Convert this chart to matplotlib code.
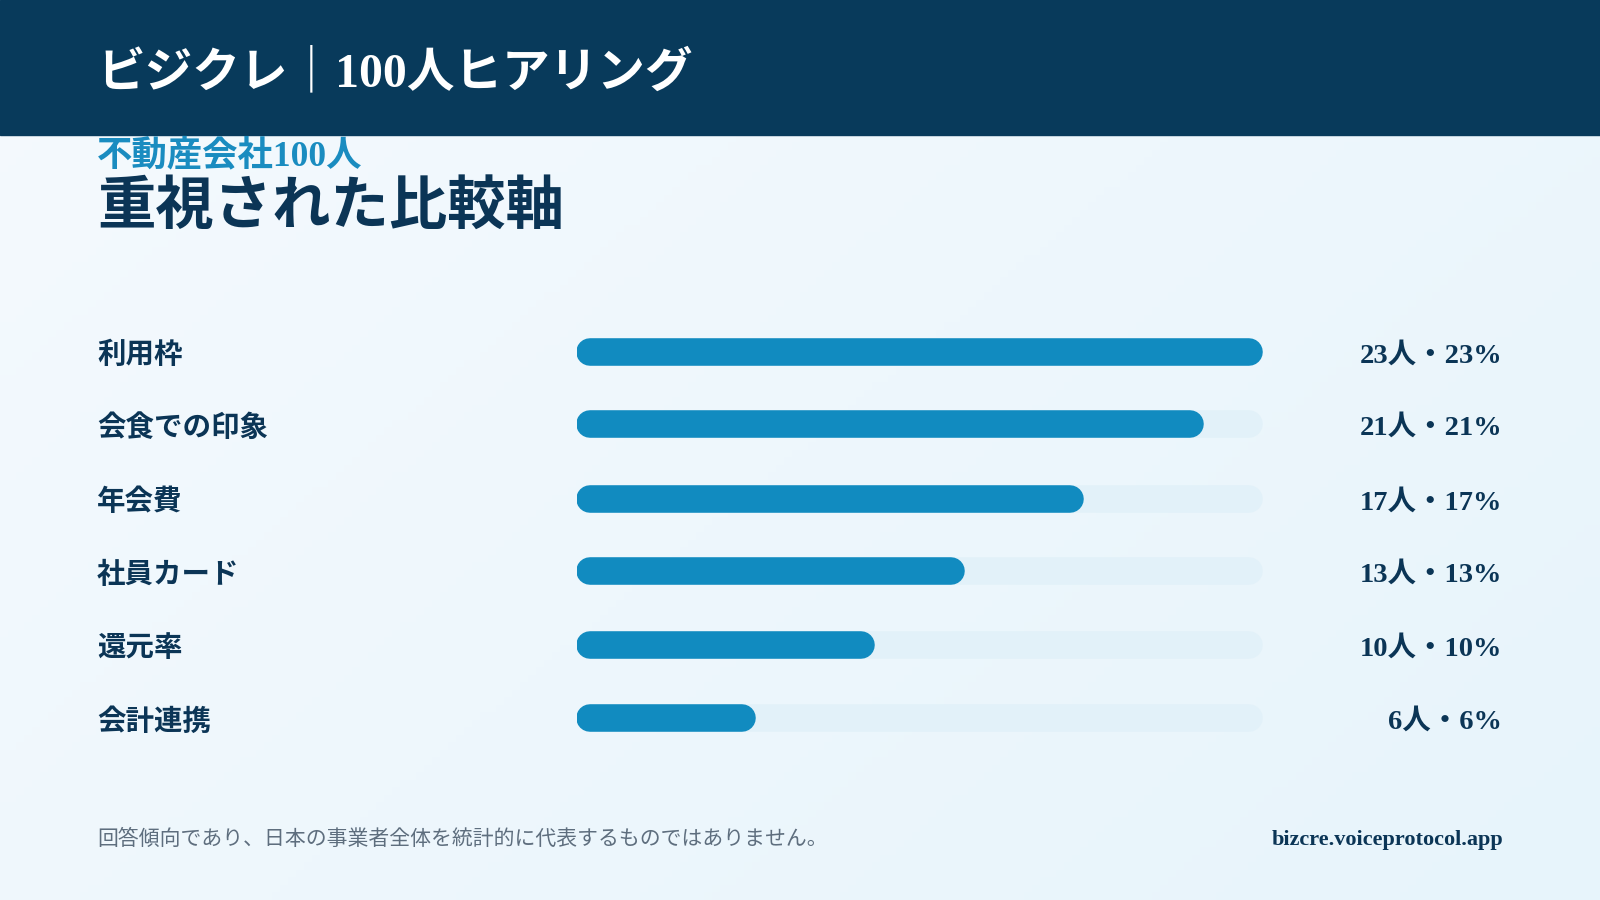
import numpy as np
import matplotlib.pyplot as plt
from matplotlib.colors import LinearSegmentedColormap

plt.rcParams['font.family'] = ['Liberation Serif', 'Noto Sans CJK JP']

categories = ["利用枠", "会食での印象", "年会費", "社員カード", "還元率", "会計連携"]
counts = [23, 21, 17, 13, 10, 6]
total = 100
header_title = "ビジクレ｜100人ヒアリング"
subtitle = "不動産会社100人"
title = "重視された比較軸"
note = "回答傾向であり、日本の事業者全体を統計的に代表するものではありません。"
url = "bizcre.voiceprotocol.app"

NAVY = "#083A5B"
BLUE = "#118BC0"
TRACK = "#E2F1F9"
TEXT = "#0B3556"

W, H = 1600, 900
s = W / 1568  # reference measured at 1568 px wide
dy = 3.5  # nudge text down so glyphs sit centred like the reference

fig = plt.figure(figsize=(16, 9), dpi=100)
bg = fig.add_axes([0, 0, 1, 1])
bg.set_xlim(0, W)
bg.set_ylim(H, 0)
bg.axis("off")

# soft diagonal gradient background
gx, gy = np.meshgrid(np.linspace(0, 1, 200), np.linspace(0, 1, 120))
grad = (gx * 0.6 + gy * 0.4)
cmap = LinearSegmentedColormap.from_list("bg", ["#F5FAFE", "#E7F4FB"])
bg.imshow(grad, cmap=cmap, extent=[0, W, H, 0], aspect="auto", zorder=0)

# header band
bg.add_patch(plt.Rectangle((0, 0), W, 132 * s, color=NAVY, zorder=1))
bg.text(95 * s, 68 * s + dy, header_title, color="white", fontsize=34.3,
        fontweight="bold", va="center", ha="left", zorder=2)

bg.text(95 * s, 151 * s + 2, subtitle, color="#1A8CC0", fontsize=25.5,
        fontweight="bold", va="center", ha="left", zorder=2)
bg.text(95 * s, 199 * s + 5, title, color=TEXT, fontsize=42,
        fontweight="bold", va="center", ha="left", zorder=2)

# bar area
row_y = [345, 416, 489, 560, 632, 704]
x0, x1 = 565 * s, 1238 * s
bar_h = 27 * s
top = (row_y[0] - 36) * s
bottom = (row_y[-1] + 36) * s
ax = fig.add_axes([x0 / W, 1 - bottom / H, (x1 - x0) / W, (bottom - top) / H])
vmax = max(counts)
ax.set_xlim(0, vmax)
ax.set_ylim(bottom, top)
ax.axis("off")

lw = bar_h * 72 / 100  # px -> pt
r = (bar_h / 2) / (x1 - x0) * vmax  # cap radius in data units
for i, (cat, c) in enumerate(zip(categories, counts)):
    y = row_y[i] * s
    ax.plot([r, vmax - r], [y, y], color=TRACK, lw=lw, solid_capstyle="round", zorder=1)
    ax.plot([r, c - r], [y, y], color=BLUE, lw=lw, solid_capstyle="round", zorder=2)
    bg.text(95 * s, y + dy, cat, color=TEXT, fontsize=20.5, fontweight="bold",
            va="center", ha="left", zorder=2)
    pct = round(c / total * 100)
    bg.text(1472 * s, y + dy, f"{c}人・{pct}%", color=TEXT, fontsize=20.5,
            fontweight="bold", va="center", ha="right", zorder=2)

# footer
bg.text(95 * s, 822 * s + 1, note, color="#5E6E7E", fontsize=15,
        va="center", ha="left", zorder=2)
bg.text(1473 * s, 822 * s + 1, url, color=TEXT, fontsize=16, fontweight="bold",
        va="center", ha="right", zorder=2)

fig.savefig("out.png", dpi=100)
